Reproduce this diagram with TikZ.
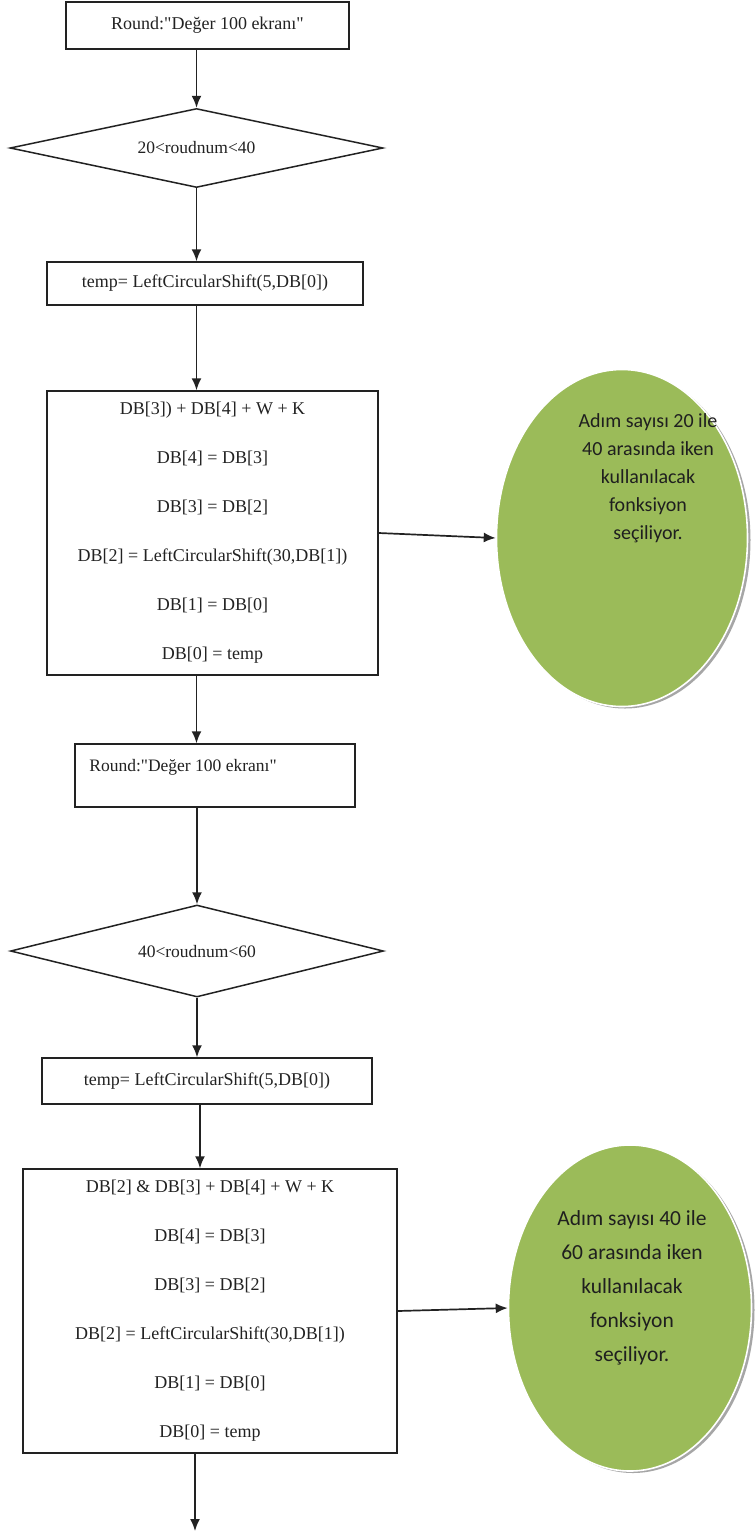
\documentclass[tikz,border=0pt]{standalone}
\usepackage{fontspec}
\setmainfont{Liberation Serif}
\newfontfamily\notefont{Carlito}
\usetikzlibrary{shapes.geometric,arrows.meta}
\definecolor{leafgreen}{HTML}{9BBB59}
\definecolor{inkgray}{HTML}{222222}
\begin{document}
\begin{tikzpicture}[x=1pt,y=-1pt,
  box/.style={draw=inkgray, line width=1.5pt, rectangle, inner sep=0pt, fill=white,
    text=inkgray, font=\fontsize{18}{22}\selectfont},
  stepsbox/.style={box, align=center, font=\fontsize{18}{49}\selectfont},
  cond/.style={draw=inkgray, line width=1.5pt, diamond, inner sep=0pt, text=inkgray,
    font=\fontsize{17.5}{20}\selectfont},
  arr/.style={draw=inkgray, line width=1.7pt, -{Latex[length=12pt,width=10pt]}},
  bubble/.style={ellipse, fill=leafgreen, draw=white, line width=1.6pt, inner sep=0pt},
  bubbleshade/.style={ellipse, fill=black!35, inner sep=0pt},
  notetext/.style={align=center, text=black!88, inner sep=0pt}
]
\useasboundingbox (0,0) rectangle (755,1532);
\fill[white] (0,0) rectangle (755,1532);

% ---------- first block: rounds 20..40 ----------
\node[box, minimum width=283pt, minimum height=47pt] (box1) at (207.5,25.5)
  {Round:\textquotedbl Değer 100 ekranı\textquotedbl};
\node[cond, aspect=4.72, minimum width=373pt, minimum height=79pt] (d1) at (196.5,148)
  {20<roudnum<40};
\node[box, minimum width=316pt, minimum height=43pt] (box2) at (205,283.5)
  {temp= LeftCircularShift(5,DB[0])};
\node[stepsbox, minimum width=331pt, minimum height=284pt] (box3) at (212.5,533)
  {DB[3]) + DB[4] + W + K\\
   DB[4] = DB[3]\\
   DB[3] = DB[2]\\
   DB[2] = LeftCircularShift(30,DB[1])\\
   DB[1] = DB[0]\\
   DB[0] = temp};

\node[bubbleshade, minimum width=251pt, minimum height=337pt] (sh1) at (625,540) {};
\node[bubble, minimum width=251pt, minimum height=337pt] (ell1) at (622,538) {};
\node[notetext, font=\notefont\fontsize{20}{28}\selectfont] (note1) at (648,478)
  {Adım sayısı 20 ile\\40 arasında iken\\kullanılacak\\fonksiyon\\seçiliyor.};

% ---------- second block: rounds 40..60 ----------
\node[box, minimum width=280pt, minimum height=63pt] (box4) at (215,775.5) {};
\node[text=inkgray, font=\fontsize{17.5}{22}\selectfont, inner sep=0pt] (box4t) at (183,767)
  {Round:\textquotedbl Değer 100 ekranı\textquotedbl};
\node[cond, aspect=4.05, minimum width=373pt, minimum height=92pt] (d2) at (197,951)
  {40<roudnum<60};
\node[box, minimum width=330pt, minimum height=46pt] (box5) at (207,1081)
  {temp= LeftCircularShift(5,DB[0])};
\node[stepsbox, minimum width=374pt, minimum height=284pt] (box6) at (210,1311)
  {DB[2] \& DB[3] + DB[4] + W + K\\
   DB[4] = DB[3]\\
   DB[3] = DB[2]\\
   DB[2] = LeftCircularShift(30,DB[1])\\
   DB[1] = DB[0]\\
   DB[0] = temp};

\node[bubbleshade, minimum width=243pt, minimum height=326pt] (sh2) at (633,1310) {};
\node[bubble, minimum width=243pt, minimum height=326pt] (ell2) at (630,1308) {};
\node[notetext, font=\notefont\fontsize{21.5}{34}\selectfont] (note2) at (632,1288)
  {Adım sayısı 40 ile\\60 arasında iken\\kullanılacak\\fonksiyon\\seçiliyor.};

\coordinate (lane5) at (200,0);
\coordinate (exit) at (195,1531);

% ---------- connectors ----------
\draw[arr] (d1.north |- box1.south) -- (d1.north);
\draw[arr] (d1.south) -- (d1.south |- box2.north);
\draw[arr] (d1.south |- box2.south) -- (d1.south |- box3.north);
\draw[arr] (box3.east) -- (ell1.west);
\draw[arr] (d1.south |- box3.south) -- (d1.south |- box4.north);
\draw[arr] (box4.south -| d2.north) -- (d2.north);
\draw[arr] (d2.south) -- (d2.south |- box5.north);
\draw[arr] (lane5 |- box5.south) -- (lane5 |- box6.north);
\draw[arr] (exit |- box6.south) -- (exit);
\draw[arr] (box6.east) -- (ell2.west);
\end{tikzpicture}
\end{document}
